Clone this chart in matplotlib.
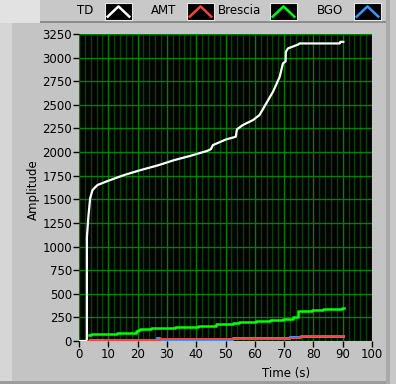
import matplotlib
matplotlib.use('Agg')
import matplotlib.pyplot as plt
from matplotlib.patches import Rectangle

# data
td_t = [0, 2.7, 2.7, 3.2, 3.8, 4.6, 6.3, 9.7, 15.4, 21.1, 27.0, 32.5, 38.0, 43.9, 45.0, 45.7,
        50.2, 53.5, 53.9, 55.9, 59.4, 61.6, 63.9, 66.2, 68.5, 69.6, 70.5, 70.6, 71.3, 74.8,
        75.3, 89.0, 89.2, 90.2]
td_v = [0, 0, 1100, 1315, 1510, 1598, 1651, 1693, 1757, 1810, 1860, 1915, 1960, 2014, 2030, 2074,
        2134, 2162, 2240, 2286, 2339, 2392, 2515, 2638, 2797, 2938, 2960, 3061, 3097, 3139,
        3150, 3150, 3167, 3167]

amt_t = [3.0, 9.0, 28.0, 52.7, 72.0, 75.7, 90.3]
amt_v = [5, 14, 22, 24, 28, 58, 58]

brescia_t = [3.3, 4.1, 6.6, 13.0, 19.6, 20.2, 20.7, 24.7, 32.7, 40.7, 46.8, 47.9, 52.7, 54.5,
             60.5, 65.3, 69.7, 73.1, 74.6, 79.4, 83.4, 89.7, 90.3]
brescia_v = [60, 71, 78, 88, 110, 120, 127, 138, 148, 162, 176, 183, 194, 205,
             215, 226, 236, 250, 317, 328, 338, 352, 352]

bgo_t = [3.7, 8.3, 26.5, 27.5, 52.7, 71.9, 90.5]
bgo_v = [15, 6, 30, 10, 34, 40, 40]

names = ['TD', 'AMT', 'Brescia', 'BGO']
colors = ['#ffffff', '#ff4040', '#00ff00', '#3399ff']

W, H = 396, 384
fig = plt.figure(figsize=(W / 100, H / 100), dpi=100)
fig.patch.set_facecolor('#c4c4c4')


def box(x, y, w, h, color, z=0):
    # rectangle given in pixels from the top-left corner
    r = Rectangle((x / W, 1 - (y + h) / H), w / W, h / H, transform=fig.transFigure,
                  facecolor=color, edgecolor='none', zorder=z)
    fig.add_artist(r)


# panel frame
box(0, 0, 40, 23, '#e2e2e2')
box(40, 0, 346, 23, '#c8c8c8')
box(40, 21, 346, 2, '#8c8c8c')
box(0, 23, 12, 361, '#d6d6d6')
box(386, 0, 10, 384, '#a9a9a9')
box(390, 0, 6, 384, '#c8c8c8')
box(0, 381, 386, 3, '#9c9c9c')

ax = fig.add_axes([79 / W, 1 - 341 / H, 293 / W, 307 / H])
ax.set_facecolor('black')

ax.plot(td_t, td_v, color=colors[0], lw=1.6, zorder=3)
ax.step(bgo_t, bgo_v, where='post', color=colors[3], lw=1.5, zorder=3)
ax.step(amt_t, amt_v, where='post', color=colors[1], lw=1.5, zorder=3)
ax.step(brescia_t, brescia_v, where='post', color=colors[2], lw=1.8, zorder=3)

ax.set_xlim(0, 100)
ax.set_ylim(0, 3250)
ax.set_xticks(range(0, 101, 10))
ax.set_xticks(range(0, 101, 2), minor=True)
ax.set_yticks(range(0, 3251, 250))
ax.grid(True, which='major', color='#008000', lw=1)
ax.grid(True, which='minor', axis='x', color='#004400', lw=1)
ax.tick_params(which='major', length=4, width=1, labelsize=8.5, pad=1, colors='black')
ax.tick_params(which='minor', length=0)
for s in ax.spines.values():
    s.set_visible(False)

fig.text(286 / W, 1 - 374 / H, 'Time (s)', ha='center', va='center', fontsize=8.5)
fig.text(33 / W, 1 - 190 / H, 'Amplitude', ha='center', va='center', rotation=90, fontsize=8.5)

# legend at the top
label_right = [93, 176, 261, 343]
icon_left = [105, 187, 270, 354]
for name, c, lx, ix in zip(names, colors, label_right, icon_left):
    fig.text(lx / W, 1 - 11 / H, name, ha='right', va='center', fontsize=8.5)
    ia = fig.add_axes([ix / W, 1 - 20 / H, 27 / W, 17 / H])
    ia.set_facecolor('black')
    ia.plot([0.1, 0.5, 0.9], [0.2, 0.8, 0.2], color=c, lw=1.8)
    ia.set_xlim(0, 1)
    ia.set_ylim(0, 1)
    ia.set_xticks([])
    ia.set_yticks([])
    for s in ia.spines.values():
        s.set_color('#e8e8e8')

fig.savefig('out.png', dpi=100, facecolor=fig.get_facecolor())
